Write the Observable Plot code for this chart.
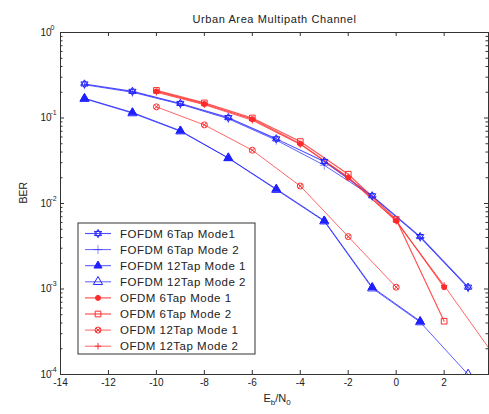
<!DOCTYPE html>
<html><head><meta charset="utf-8">
<script src="https://cdn.jsdelivr.net/npm/d3@7"></script>
<script src="https://cdn.jsdelivr.net/npm/@observablehq/plot@0.6"></script>
<style>body{margin:0;background:#fff} svg{display:block}</style>
</head><body><div id="chart"></div>
<script>
// ---- data ----
const snrF6 = [-13, -11, -9, -7, -5, -3, -1, 1, 3];
const fofdm6m1 = [0.25, 0.205, 0.148, 0.101, 0.057, 0.031, 0.0123, 0.0041, 0.00105];
const fofdm6m2 = [0.245, 0.2, 0.145, 0.098, 0.055, 0.028, 0.0121, 0.0040, 0.00103];
const snrF12m1 = [-13, -11, -9, -7, -5, -3, -1, 1];
const fofdm12m1 = [0.17, 0.116, 0.071, 0.034, 0.0148, 0.0063, 0.00105, 0.00042];
const snrF12m2 = [-13, -11, -9, -7, -5, -3, -1, 1, 3];
const fofdm12m2 = [0.168, 0.114, 0.07, 0.034, 0.0145, 0.0062, 0.00102, 0.00041, 0.0001];
const snrO6 = [-10, -8, -6, -4, -2, 0, 2];
const ofdm6m1 = [0.205, 0.146, 0.097, 0.05, 0.020, 0.0063, 0.00105];
const ofdm6m2 = [0.21, 0.15, 0.10, 0.053, 0.022, 0.0065, 0.00042];
const snrO12m1 = [-10, -8, -6, -4, -2, 0];
const ofdm12m1 = [0.135, 0.083, 0.042, 0.016, 0.0041, 0.00105];
const snrO12m2 = [-10, -8, -6, -4, -2, 0, 2, 4];
const ofdm12m2 = [0.2, 0.143, 0.094, 0.049, 0.0205, 0.0062, 0.0011, 0.00018];
const seriesNames = ["FOFDM 6Tap Mode1", "FOFDM 6Tap Mode 2", "FOFDM 12Tap Mode 1", "FOFDM 12Tap Mode 2",
  "OFDM 6Tap Mode 1", "OFDM 6Tap Mode 2", "OFDM 12Tap Mode 1", "OFDM 12Tap Mode 2"];
const xTicks = [-14, -12, -10, -8, -6, -4, -2, 0, 2];
const yMajor = [1, 0.1, 0.01, 0.001, 0.0001];
const yExp = ["0", "-1", "-2", "-3", "-4"];
const yMinor = [];
for (const d of [0.0001, 0.001, 0.01, 0.1]) for (let k = 2; k <= 9; k++) yMinor.push(d * k);

// ---- symbols ----
const hexagram = {draw(ctx, size) {
  const r = Math.sqrt(size / Math.PI) * 1.15;
  for (const off of [-Math.PI / 2, Math.PI / 2]) {
    for (let i = 0; i < 3; i++) {
      const a = off + i * 2 * Math.PI / 3;
      const px = r * Math.cos(a), py = r * Math.sin(a);
      if (i === 0) ctx.moveTo(px, py); else ctx.lineTo(px, py);
    }
    ctx.closePath();
  }
}};
const circleX = {draw(ctx, size) {
  const r = Math.sqrt(size / Math.PI);
  ctx.moveTo(r, 0); ctx.arc(0, 0, r, 0, 2 * Math.PI);
  const s = r * 0.7;
  ctx.moveTo(-s, -s); ctx.lineTo(s, s); ctx.moveTo(-s, s); ctx.lineTo(s, -s);
}};
const blue = "#2020ff", red = "#ff2a2a";
const series = [
  {name: seriesNames[0], x: snrF6, y: fofdm6m1, color: blue, symbol: hexagram, fill: "none", r: 3.6, sw: 1.1},
  {name: seriesNames[1], x: snrF6, y: fofdm6m2, color: blue, symbol: d3.symbolPlus, fill: blue, r: 3, sw: 0.9, plus: true},
  {name: seriesNames[2], x: snrF12m1, y: fofdm12m1, color: blue, symbol: d3.symbolTriangle, fill: blue, r: 3, sw: 1},
  {name: seriesNames[3], x: snrF12m2, y: fofdm12m2, color: blue, symbol: d3.symbolTriangle, fill: "none", r: 3.4, sw: 0.9},
  {name: seriesNames[4], x: snrO6, y: ofdm6m1, color: red, symbol: d3.symbolCircle, fill: red, r: 2.5, sw: 1.2},
  {name: seriesNames[5], x: snrO6, y: ofdm6m2, color: red, symbol: d3.symbolSquare, fill: "none", r: 3.2, sw: 1.2},
  {name: seriesNames[6], x: snrO12m1, y: ofdm12m1, color: red, symbol: circleX, fill: "none", r: 3, sw: 0.9},
  {name: seriesNames[7], x: snrO12m2, y: ofdm12m2, color: red, symbol: d3.symbolPlus, fill: red, r: 2.2, sw: 0.9}
];

const W = 489, H = 414, mL = 60, mR = 1, mT = 32, mB = 40;
const fw = W - mL - mR, fh = H - mT - mB;
const font = "Liberation Sans, Arial, Helvetica, sans-serif";
const ink = "#333";

const marks = [];
for (const s of series) {
  const rows = s.x.map((x, i) => ({x, y: s.y[i]}));
  marks.push(Plot.line(rows, {x: "x", y: "y", stroke: s.color, strokeWidth: s.sw, strokeOpacity: 0.8, clip: true}));
}
for (const s of series) {
  const rows = s.x.map((x, i) => ({x, y: s.y[i]}));
  if (s.plus) {
    marks.push(Plot.dot(rows, {x: "x", y: "y", symbol: "plus", r: s.r, stroke: s.color, fill: s.color, strokeWidth: 0.5, clip: true}));
  } else {
    marks.push(Plot.dot(rows, {x: "x", y: "y", symbol: s.symbol, r: s.r, stroke: s.color, fill: s.fill, strokeWidth: 1, clip: true}));
  }
}

const chart = Plot.plot({
  width: W, height: H, marginLeft: mL, marginRight: mR, marginTop: mT, marginBottom: mB,
  style: {fontFamily: font, background: "#fff"},
  x: {domain: [-14, 3.85], axis: null},
  y: {type: "log", domain: [1e-4, 1], axis: null},
  marks: [
    ...marks,
    Plot.frame({stroke: ink}),
    Plot.tickX(xTicks, {x: d => d, insetTop: fh - 4, stroke: ink}),
    Plot.tickX(xTicks, {x: d => d, insetBottom: fh - 4, stroke: ink}),
    Plot.tickY(yMajor, {y: d => d, insetRight: fw - 4, stroke: ink}),
    Plot.tickY(yMinor, {y: d => d, insetRight: fw - 2.5, stroke: ink}),
    Plot.tickY(yMajor, {y: d => d, insetLeft: fw - 4, stroke: ink}),
    Plot.tickY(yMinor, {y: d => d, insetLeft: fw - 2.5, stroke: ink}),
    Plot.text(xTicks, {x: d => d, frameAnchor: "bottom", dy: 11, text: d => String(d), fontSize: 10, fill: "#222"}),
    Plot.text(yMajor, {y: d => d, frameAnchor: "left", dx: -9, textAnchor: "end", text: () => "10", fontSize: 10, fill: "#222"}),
    Plot.text(yMajor, {y: d => d, frameAnchor: "left", dx: -10, dy: -5, textAnchor: "start", text: (d, i) => yExp[i], fontSize: 7, fill: "#222"}),
    Plot.text(["Urban Area Multipath Channel"], {frameAnchor: "top", dy: -17, text: d => d, fontSize: 11, fill: "#222"}),
    Plot.text(["BER"], {frameAnchor: "left", dx: -37, rotate: -90, text: d => d, fontSize: 10.5, fill: "#222"})
  ]
});
document.getElementById("chart").appendChild(chart);

const svg = d3.select(chart);
svg.selectAll("text").filter(function () { return this.textContent === "Urban Area Multipath Channel"; })
  .attr("letter-spacing", 0.6);

// x label with subscripts
const xl = svg.append("text").attr("x", mL + 217).attr("y", 402).attr("text-anchor", "middle")
  .attr("font-family", font).attr("font-size", 11).attr("fill", "#222");
xl.append("tspan").text("E");
xl.append("tspan").attr("font-size", 8).attr("dy", 3).text("b");
xl.append("tspan").attr("dy", -3).text("/N");
xl.append("tspan").attr("font-size", 8).attr("dy", 3).text("0");

// legend
const lg = svg.append("g").attr("font-family", font).attr("font-size", 11.5).attr("text-anchor", "start");
const lx = 78, ly = 223, lw = 177, lh = 131, rowH = 16.1;
lg.append("rect").attr("x", lx).attr("y", ly).attr("width", lw).attr("height", lh)
  .attr("fill", "#fff").attr("stroke", ink).attr("stroke-width", 1);
series.forEach((s, i) => {
  const cy = ly + 10.5 + i * rowH;
  lg.append("line").attr("x1", lx + 7).attr("x2", lx + 33).attr("y1", cy).attr("y2", cy)
    .attr("stroke", s.color).attr("stroke-width", s.sw).attr("stroke-opacity", 0.8);
  const sym = s.plus ? d3.symbolPlus : s.symbol;
  lg.append("path").attr("transform", `translate(${lx + 20},${cy})`)
    .attr("d", d3.symbol().type(sym).size(Math.PI * s.r * s.r)())
    .attr("fill", s.plus ? s.color : s.fill).attr("stroke", s.color).attr("stroke-width", s.plus ? 0.5 : 1);
  lg.append("text").attr("x", lx + 42).attr("y", cy + 4).attr("fill", "#222").attr("text-anchor", "start")
    .attr("letter-spacing", 0.5).text(s.name);
});
</script>
</body></html>
